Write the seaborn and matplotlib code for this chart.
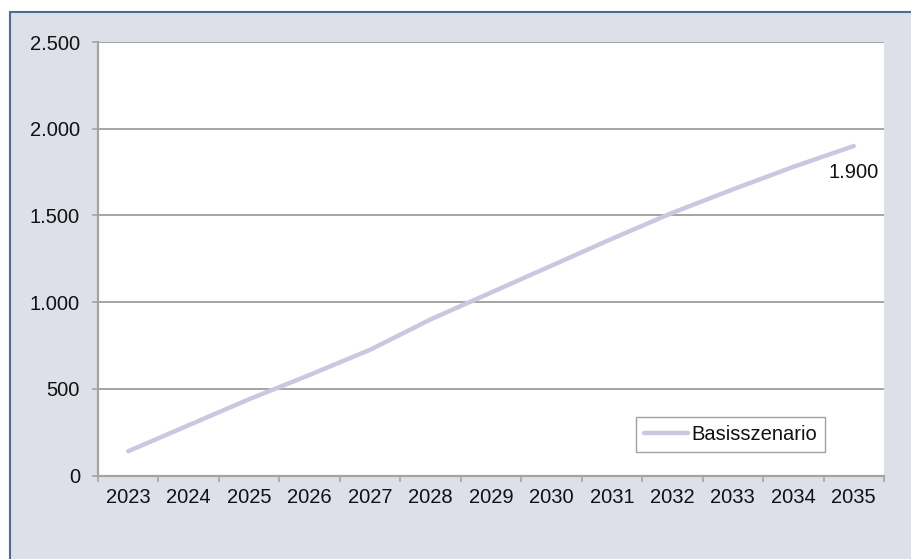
import matplotlib
matplotlib.use("Agg")
import numpy as np
import pandas as pd
import matplotlib.pyplot as plt
import seaborn as sns
from matplotlib.patches import Rectangle
from matplotlib.ticker import FuncFormatter

# Werte
YEARS = ["2023", "2024", "2025", "2026", "2027", "2028", "2029",
         "2030", "2031", "2032", "2033", "2034", "2035"]
VALUES = [140, 290, 440, 580, 725, 900, 1055, 1210, 1365, 1515, 1650, 1780, 1900]
SERIES = "Basisszenario"
Y_TICKS = [0, 500, 1000, 1500, 2000, 2500]

LINE_COLOR = "#c8c8e0"
GRID_COLOR = "#a4a4a4"
BG_COLOR = "#dde0e9"
TEXT_COLOR = "#111111"

sns.set_style("white")
plt.rcParams["font.family"] = ["Liberation Sans", "DejaVu Sans"]
plt.rcParams["text.color"] = TEXT_COLOR
plt.rcParams["xtick.labelcolor"] = TEXT_COLOR
plt.rcParams["ytick.labelcolor"] = TEXT_COLOR

df = pd.DataFrame({"Jahr": YEARS, "Wert": VALUES})

fig = plt.figure(figsize=(9.12, 5.59), dpi=100)
fig.patch.set_facecolor("white")
fig.add_artist(Rectangle((10 / 912, -0.1), 1.2, 1 - 12 / 559 + 0.1,
                         transform=fig.transFigure, facecolor=BG_COLOR,
                         edgecolor="#4d6b94", lw=1.5, zorder=0))

ax = fig.add_axes([98 / 912, 1 - 475.5 / 559, (884 - 98) / 912, (475.5 - 42) / 559])
ax.set_facecolor("white")

sns.lineplot(data=df, x="Jahr", y="Wert", color=LINE_COLOR, lw=3.2,
             label=SERIES, sort=False, ax=ax)

ax.set_xlim(-0.5, len(YEARS) - 0.5)
ax.set_ylim(0, 2500)
ax.set_xlabel("")
ax.set_ylabel("")

# ticks between categories, labels in the middle
ax.set_xticks(np.arange(-0.5, len(YEARS), 1))
ax.set_xticklabels([])
ax.set_xticks(np.arange(len(YEARS)), minor=True)
ax.set_xticklabels(YEARS, minor=True, fontsize=14.5, color=TEXT_COLOR)
ax.tick_params(axis="x", which="major", length=4.5, width=1.2,
               color=GRID_COLOR, direction="out", bottom=True)
ax.tick_params(axis="x", which="minor", length=0, pad=9, bottom=True)

ax.set_yticks(Y_TICKS)
ax.yaxis.set_major_formatter(FuncFormatter(lambda v, _: f"{int(v):,}".replace(",", ".")))
ax.tick_params(axis="y", length=4, width=1.2, color=GRID_COLOR,
               direction="out", left=True, pad=9, labelsize=14.5,
               labelcolor=TEXT_COLOR)

ax.grid(axis="y", color=GRID_COLOR, lw=1.4)
ax.grid(axis="x", visible=False)
for side in ["top", "right"]:
    ax.spines[side].set_visible(False)
for side in ["left", "bottom"]:
    ax.spines[side].set_color(GRID_COLOR)
    ax.spines[side].set_linewidth(1.6)

ax.annotate(f"{VALUES[-1]:,}".replace(",", "."), xy=(len(YEARS) - 1, VALUES[-1]),
            xytext=(18, -19), textcoords="offset points",
            ha="right", va="center", fontsize=14.5, color=TEXT_COLOR)

leg = ax.legend(loc="center", bbox_to_anchor=(0.805, 0.095), frameon=True,
                fancybox=False, edgecolor="#8a8a8a", handlelength=2.2,
                handletextpad=0.15, borderpad=0.4, fontsize=14.5)
leg.get_frame().set_linewidth(1.0)

fig.savefig("out.png", dpi=100)
